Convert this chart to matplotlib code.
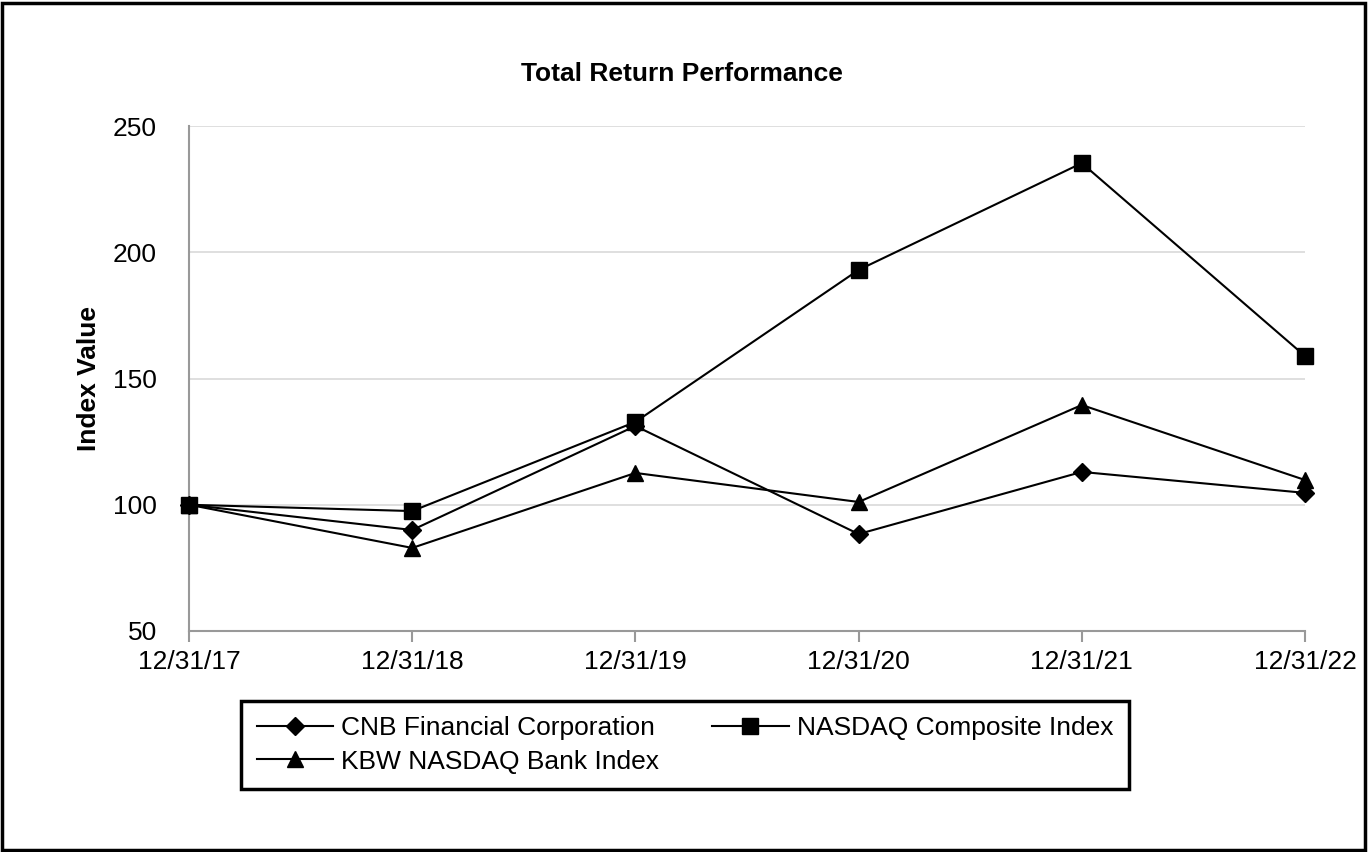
import matplotlib
matplotlib.use("Agg")
import matplotlib.pyplot as plt
from matplotlib.patches import Rectangle

plt.rcParams['font.family'] = ['Liberation Sans', 'DejaVu Sans']

dates = ["12/31/17", "12/31/18", "12/31/19", "12/31/20", "12/31/21", "12/31/22"]
cnb = [100.0, 90.0, 131.2, 88.4, 113.0, 104.7]
nasdaq = [100.0, 97.5, 132.8, 193.0, 235.3, 158.9]
kbw = [100.0, 82.9, 112.6, 101.1, 139.5, 109.8]

fig = plt.figure(figsize=(13.68, 8.52), dpi=100)
ax = fig.add_axes([189/1368, 1 - 631/852, (1305-189)/1368, (631-126)/852])

x = list(range(len(dates)))
l1, = ax.plot(x, cnb, color='black', lw=1.5, marker='D', ms=9, label='CNB Financial Corporation', clip_on=False, zorder=3)
l2, = ax.plot(x, nasdaq, color='black', lw=1.5, marker='s', ms=11.5, label='NASDAQ Composite Index', clip_on=False, zorder=3)
l3, = ax.plot(x, kbw, color='black', lw=1.5, marker='^', ms=11.5, label='KBW NASDAQ Bank Index', clip_on=False, zorder=3)

ax.set_xlim(0, len(dates) - 1)
ax.set_ylim(50, 250)
ax.set_yticks([50, 100, 150, 200, 250])
ax.set_xticks(x)
ax.set_xticklabels(dates)
ax.tick_params(axis='y', length=0, pad=23, labelsize=19)
ax.tick_params(axis='x', length=8, width=1.5, color='#999999', pad=6, labelsize=19)
for yv in [100, 150, 200, 250]:
    ax.axhline(yv, color='#d9d9d9', lw=1.2, zorder=1)
for s in ['top', 'right']:
    ax.spines[s].set_visible(False)
for s in ['left', 'bottom']:
    ax.spines[s].set_color('#999999')
    ax.spines[s].set_linewidth(1.5)

ax.set_ylabel('Index Value', fontsize=19, fontweight='bold', labelpad=9)
fig.text(682/1368, 1 - 74/852, 'Total Return Performance', ha='center', va='center',
         fontsize=19, fontweight='bold')

leg = fig.legend(handles=[l1, l3, l2], loc='center', ncol=2,
                 bbox_to_anchor=((238+1132)/2/1368, 1 - 745/852),
                 fontsize=19, frameon=True, fancybox=False, edgecolor='black', framealpha=1,
                 handlelength=2.9, columnspacing=2.0, labelspacing=0.35, borderpad=0.6,
                 handletextpad=0.3, borderaxespad=0)
leg.get_frame().set_linewidth(2.5)

fig.patches.append(Rectangle((0.0015, 0.002), 0.996, 0.995, transform=fig.transFigure,
                             fill=False, edgecolor='black', lw=2.5))

fig.savefig('out.png', dpi=100)
